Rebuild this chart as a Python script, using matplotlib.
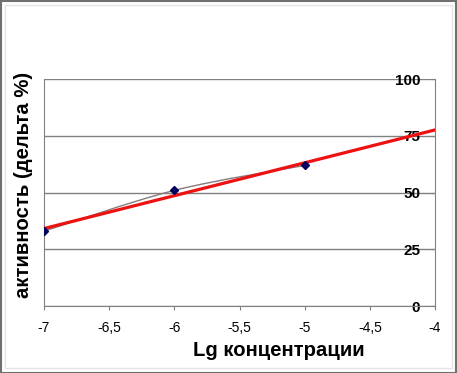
import numpy as np
import matplotlib.pyplot as plt
from matplotlib.path import Path
from matplotlib.patches import PathPatch, Rectangle

plt.rcParams['font.family'] = ['Liberation Sans', 'DejaVu Sans']

# data
lg_conc = [-7, -6, -5]
activity = [33, 51, 62]
x_ticks = [-7, -6.5, -6, -5.5, -5, -4.5, -4]
x_labels = ['-7', '-6,5', '-6', '-5,5', '-5', '-4,5', '-4']
y_ticks = [0, 25, 50, 75, 100]

fig = plt.figure(figsize=(4.57, 3.73), dpi=100)
ax = fig.add_axes([0.0963, 0.1796, 0.8556, 0.6078])

# smoothed line through the points (excel style bezier)
pts = np.column_stack([lg_conc, activity]).astype(float)
ext = np.vstack([pts[0], pts, pts[-1]])
verts = [tuple(pts[0])]
codes = [Path.MOVETO]
for i in range(len(pts) - 1):
    p0, p1, p2, p3 = ext[i], ext[i + 1], ext[i + 2], ext[i + 3]
    c1 = p1 + (p2 - p0) / 6
    c2 = p2 - (p3 - p1) / 6
    verts += [tuple(c1), tuple(c2), tuple(p2)]
    codes += [Path.CURVE4] * 3
ax.add_patch(PathPatch(Path(verts, codes), facecolor='none',
                       edgecolor='#8a7a7a', lw=1, zorder=3))

# linear trend
k, b = np.polyfit(lg_conc, activity, 1)
tx = np.array([-7, -4])
ax.plot(tx, k * tx + b, color='#ee1111', lw=2.3, zorder=4)

ax.plot(lg_conc, activity, ls='none', marker='D', ms=3.6, color='#000060', zorder=5)

ax.set_xlim(-7, -4)
ax.set_ylim(0, 100)
ax.set_xticks(x_ticks)
ax.set_xticklabels(x_labels, fontsize=10)
ax.set_yticks(y_ticks)
ax.yaxis.grid(True, color='#808080', lw=1)
ax.set_axisbelow(True)
for s in ax.spines.values():
    s.set_color('#808080')
ax.spines['top'].set_visible(False)

ax.tick_params(axis='x', direction='out', length=3, color='#808080', pad=8)
ax.tick_params(axis='y', left=False, labelleft=False, right=True, labelright=True,
               direction='in', length=3, color='#808080', pad=-10.8,
               labelsize=11)
for t in ax.get_yticklabels():
    t.set_horizontalalignment('right')
    t.set_fontweight('bold')

fig.text(279 / 457, 1 - 351 / 373, 'Lg концентрации', fontsize=14.6,
         fontweight='bold', ha='center', va='center')
fig.text(24 / 457, 1 - 185 / 373, 'активность (дельта %)', fontsize=14.6,
         fontweight='bold', ha='center', va='center', rotation=90)

# chart area borders
fig.add_artist(Rectangle((0.5 / 457, 0.5 / 373), 1 - 1.5 / 457, 1 - 1.5 / 373,
                         transform=fig.transFigure, fill=False,
                         edgecolor='#707070', lw=1.5))
fig.add_artist(Rectangle((5 / 457, 5 / 373), 1 - 10 / 457, 1 - 10 / 373,
                         transform=fig.transFigure, fill=False,
                         edgecolor='#e4e4e4', lw=1))

fig.savefig('out.png', dpi=100)
